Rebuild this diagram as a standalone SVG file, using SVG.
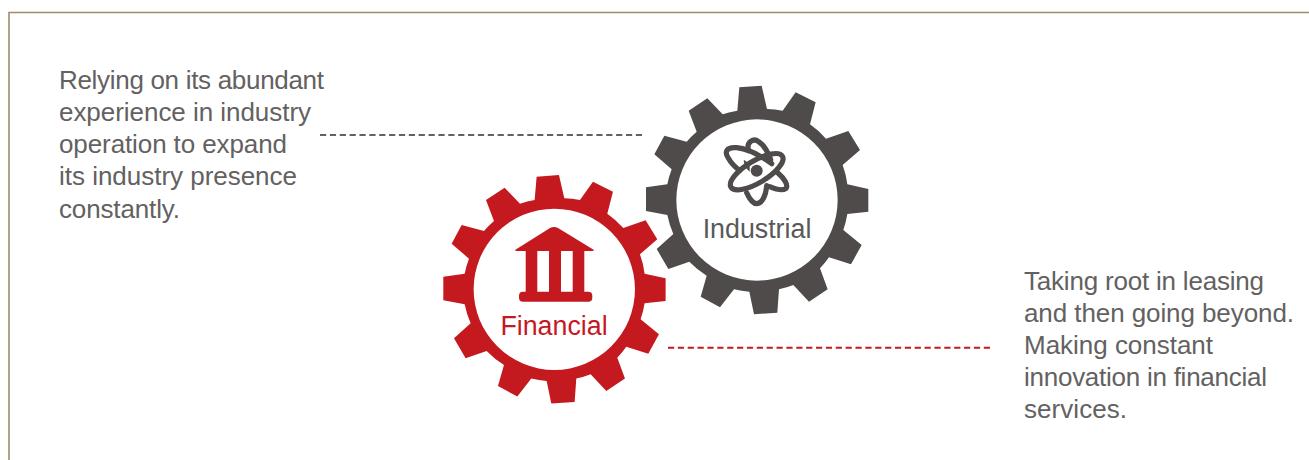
<svg xmlns="http://www.w3.org/2000/svg" width="1309" height="460" viewBox="0 0 1309 460">
<style>
.t{font-family:"Liberation Sans",Arial,sans-serif;font-size:26px;fill:#636161}
.lab{font-family:"Liberation Sans",Arial,sans-serif;font-size:26.800px;text-anchor:middle}
.atom{fill:none;stroke:#4e4b4a;stroke-width:5.200;stroke-linecap:round}
</style>
<defs>
<path id="gear" fill-rule="evenodd" transform="scale(.3333) translate(-381 -390)" d="M322 122L328 52L395 47L411 117A275 275 0 0 1 458 122L497 67L557 97L540 163A275 275 0 0 1 588 206L655 183L690 240L638 285A275 275 0 0 1 652 343L715 357L715 425L652 432A275 275 0 0 1 640 480L695 525L663 583L597 562A275 275 0 0 1 570 595L593 658L537 695L490 645A275 275 0 0 1 447 658L442 728L372 733L358 665A275 275 0 0 1 312 658L270 712L212 680L230 617A275 275 0 0 1 178 575L115 597L80 537L130 492A275 275 0 0 1 112 435L48 423L48 352L112 343A275 275 0 0 1 125 298L73 253L103 197L170 215A275 275 0 0 1 200 185L176 122L232 85L278 133A275 275 0 0 1 322 122ZM139 390A242 242 0 1 0 623 390A242 242 0 1 0 139 390Z"/>
</defs>
<g id="frame" fill="none">
<path d="M9 460V12.500H1309" stroke="#a08a6c" stroke-width="1.600"/>
</g>
<g id="connectors" fill="none" stroke-width="2" stroke-dasharray="6.200 3.670">
<path d="M320 135H642" stroke="#636161"/>
<path d="M990 347.700H668" stroke="#c4191f"/>
</g>
<g id="note-industrial">
<text class="t" x="59" y="89" textLength="265">Relying on its abundant</text>
<text class="t" x="59" y="121" textLength="252">experience in industry</text>
<text class="t" x="59" y="153" textLength="228">operation to expand</text>
<text class="t" x="59" y="185" textLength="238">its industry presence</text>
<text class="t" x="59" y="218" textLength="121">constantly.</text>
</g>
<g id="note-financial">
<text class="t" x="1024" y="290" textLength="240">Taking root in leasing</text>
<text class="t" x="1024" y="322" textLength="270">and then going beyond.</text>
<text class="t" x="1024" y="354" textLength="189">Making constant</text>
<text class="t" x="1024" y="386" textLength="243">innovation in financial</text>
<text class="t" x="1024" y="418" textLength="103">services.</text>
</g>
<g id="industrial">
<use href="#gear" x="757" y="200" fill="#4e4b4a"/>
<g transform="translate(756.700 171.700)">
<ellipse class="atom" rx="30" ry="11" transform="rotate(-31)"/>
<path class="atom" d="M15 -8C4 -16 -10 -23 -20 -24C-30 -25 -33 -20 -28 -13C-26 -9 -22 -5 -17 -1M21 1C28 7 32 14 29 17C26 19 20 18 13 15"/>
<path class="atom" d="M-8 -21C-11 -30 -3 -34 2 -30C7 -27 11 -20 14 -12M-10 21C-7 28 -3 32 0 32C5 32 9 25 10 14"/>
<circle cx="0" cy="-1" r="6" fill="#4e4b4a"/>
<path d="M-13 -12L-7 -8L-7 0L-12 -5Z" fill="#4e4b4a"/>
</g>
<text class="lab" x="757" y="238" fill="#595959">Industrial</text>
</g>
<g id="financial">
<use href="#gear" x="554.300" y="289.300" fill="#c4191f"/>
<g fill="#c4191f">
<path d="M515 250L550 228Q554 226 558 228L594 250Q594 251 592 251H517Q515 251 515 250Z"/>
<rect x="525.700" y="251" width="11.600" height="42"/>
<rect x="549" y="251" width="12" height="42"/>
<rect x="572.700" y="251" width="11.600" height="42"/>
<rect x="519" y="291.700" width="73.300" height="10" rx="4"/>
</g>
<text class="lab" x="554" y="335" fill="#c4191f">Financial</text>
</g>
</svg>
